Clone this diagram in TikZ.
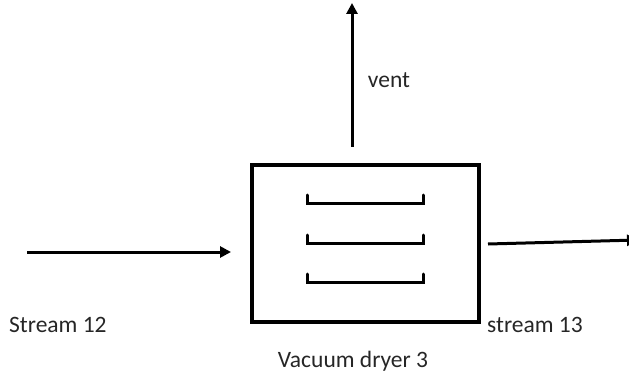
\documentclass[tikz,border=0pt]{standalone}
\usepackage{fontspec}
\setmainfont{Carlito}
\usetikzlibrary{arrows.meta, positioning}

\begin{document}
\begin{tikzpicture}[
            x=1pt, y=-1pt,
            dryer/.style={rectangle, draw=black, line width=3.5pt, minimum width=227pt, minimum height=157pt, inner sep=0pt},
            stream/.style={-{Triangle[length=11pt,width=11pt]}, line width=3pt},
            shelf/.style={line width=3pt, line cap=round},
            lbl/.style={font=\fontsize{23.5}{28}\selectfont, inner sep=0pt, text=black!85}
        ]
            \useasboundingbox (0,0) rectangle (629,385);

            % Dryer body
            \node[dryer] (dryer) at (365.5,243.5) {};

            % Trays
            \foreach \ty in {203,243,282}
                \draw[shelf] (307,\ty-8) -- (307,\ty) -- (423,\ty) -- (423,\ty-8);

            % Stream ends
            \coordinate (inA) at (27,252);
            \coordinate (inB) at (231,252);
            \coordinate (outA) at (488,244);
            \coordinate (outB) at (638,240);
            \coordinate (ventA) at (352,147);
            \coordinate (ventB) at (352,3);

            % Arrows
            \draw[stream] (inA) -- (inB);
            \draw[stream] (outA) -- (outB);
            \draw[stream] (ventA) -- (ventB);

            % Labels
            \node[lbl] (vent) at (389,80) {vent};
            \node[lbl, anchor=west] (s12) at (9,325) {Stream 12};
            \node[lbl, anchor=west] (s13) at (487,325) {stream 13};
            \node[lbl] (name) at (353,361) {Vacuum dryer 3};
        \end{tikzpicture}
\end{document}
